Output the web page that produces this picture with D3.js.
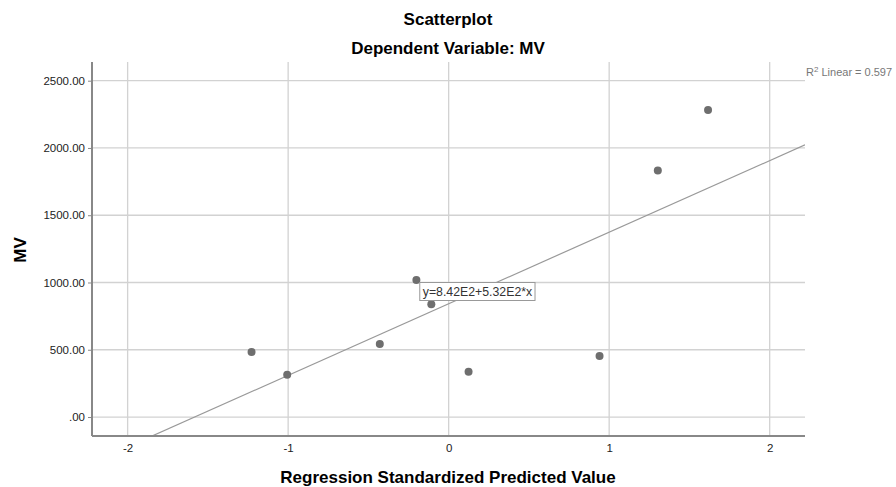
<!DOCTYPE html>
<html>
<head>
<meta charset="utf-8">
<script src="https://cdn.jsdelivr.net/npm/d3@7"></script>
<style>
  body { margin: 0; background: #fff; }
  text { font-family: "Liberation Sans", Arial, sans-serif; }
</style>
</head>
<body>
<script>
// standardized predicted value vs MV
const predicted = [-1.228, -1.006, -0.429, -0.201, -0.108, 0.124, 0.940, 1.303, 1.616];
const mv = [484, 315, 543, 1019, 838, 337, 454, 1833, 2282];
const xTicks = [-2, -1, 0, 1, 2];
const yTicks = [0, 500, 1000, 1500, 2000, 2500];
const intercept = 842;
const slope = 532;
const r2 = 0.597;

const w = 896, h = 487;
const plotL = 92, plotR = 805, plotT = 62, plotB = 436;

const svg = d3.select('body').append('svg')
  .attr('width', w)
  .attr('height', h);

const xScale = d3.scaleLinear().domain([-2.222, 2.22]).range([plotL, plotR]);
const yScale = d3.scaleLinear().domain([-141, 2639]).range([plotB, plotT]);

// grid
svg.append('g').selectAll('line')
  .data(yTicks)
  .enter().append('line')
  .attr('x1', plotL).attr('x2', plotR)
  .attr('y1', d => yScale(d)).attr('y2', d => yScale(d))
  .attr('stroke', '#d2d2d2').attr('stroke-width', 1.3);

svg.append('g').selectAll('line')
  .data(xTicks)
  .enter().append('line')
  .attr('x1', d => xScale(d)).attr('x2', d => xScale(d))
  .attr('y1', plotT).attr('y2', plotB)
  .attr('stroke', '#d2d2d2').attr('stroke-width', 1.3);

// fit line, clipped to plot area
svg.append('clipPath').attr('id', 'plotClip')
  .append('rect').attr('x', plotL).attr('y', plotT)
  .attr('width', plotR - plotL).attr('height', plotB - plotT);

const xd = xScale.domain();
svg.append('line')
  .attr('clip-path', 'url(#plotClip)')
  .attr('x1', xScale(xd[0])).attr('y1', yScale(intercept + slope * xd[0]))
  .attr('x2', xScale(xd[1])).attr('y2', yScale(intercept + slope * xd[1]))
  .attr('stroke', '#999').attr('stroke-width', 1.2);

// points
svg.append('g').selectAll('circle')
  .data(predicted)
  .enter().append('circle')
  .attr('cx', d => xScale(d))
  .attr('cy', (d, i) => yScale(mv[i]))
  .attr('r', 4)
  .attr('fill', '#6e6e6e');

// axes
const yAxis = d3.axisLeft(yScale).tickValues(yTicks)
  .tickFormat(d => d === 0 ? '.00' : d.toFixed(2))
  .tickSize(4).tickPadding(3);
const xAxis = d3.axisBottom(xScale).tickValues(xTicks)
  .tickFormat(d => String(d)).tickSize(0).tickPadding(8);

const gy = svg.append('g').attr('transform', `translate(${plotL},0)`).call(yAxis);
const gx = svg.append('g').attr('transform', `translate(0,${plotB})`).call(xAxis);
[gy, gx].forEach(g => {
  g.select('.domain').attr('stroke', '#888').attr('stroke-width', 2);
  g.selectAll('.tick line').attr('stroke', '#888');
  g.selectAll('.tick text').attr('fill', '#222').attr('font-size', 11.5)
    .attr('font-family', '"Liberation Sans", Arial, sans-serif');
});
gy.select('.domain').attr('d', `M0,${plotT}V${plotB}`);
gx.select('.domain').attr('d', `M${plotL},0H${plotR}`);

// equation label
const eqX = xScale(-0.18), eqY = yScale(1000);
const eq = svg.append('g').attr('transform', `translate(${eqX},${eqY})`);
const eqText = eq.append('text')
  .attr('x', 3).attr('y', 13.5)
  .attr('font-size', 12.3).attr('fill', '#333')
  .text(`y=${(intercept / 100).toFixed(2)}E2+${(slope / 100).toFixed(2)}E2*x`);
const bb = eqText.node().getBBox();
eq.insert('rect', 'text')
  .attr('x', 0).attr('y', 0)
  .attr('width', bb.width + 5).attr('height', 18)
  .attr('fill', '#fff').attr('stroke', '#999');

// R2 label
const r2t = svg.append('text')
  .attr('x', plotR + 1).attr('y', 76)
  .attr('font-size', 11).attr('fill', '#777');
r2t.append('tspan').text('R');
r2t.append('tspan').attr('dy', -4).attr('font-size', 8).text('2');
r2t.append('tspan').attr('dy', 4).text(` Linear = ${r2}`);

// titles
svg.append('text').attr('x', 448).attr('y', 25)
  .attr('text-anchor', 'middle').attr('font-size', 17).attr('font-weight', 'bold')
  .text('Scatterplot');
svg.append('text').attr('x', 448).attr('y', 54)
  .attr('text-anchor', 'middle').attr('font-size', 17).attr('font-weight', 'bold')
  .text('Dependent Variable: MV');
svg.append('text').attr('x', 448).attr('y', 483)
  .attr('text-anchor', 'middle').attr('font-size', 17).attr('font-weight', 'bold')
  .text('Regression Standardized Predicted Value');
svg.append('text')
  .attr('transform', 'translate(26,250) rotate(-90)')
  .attr('text-anchor', 'middle').attr('font-size', 17).attr('font-weight', 'bold')
  .text('MV');
</script>
</body>
</html>
